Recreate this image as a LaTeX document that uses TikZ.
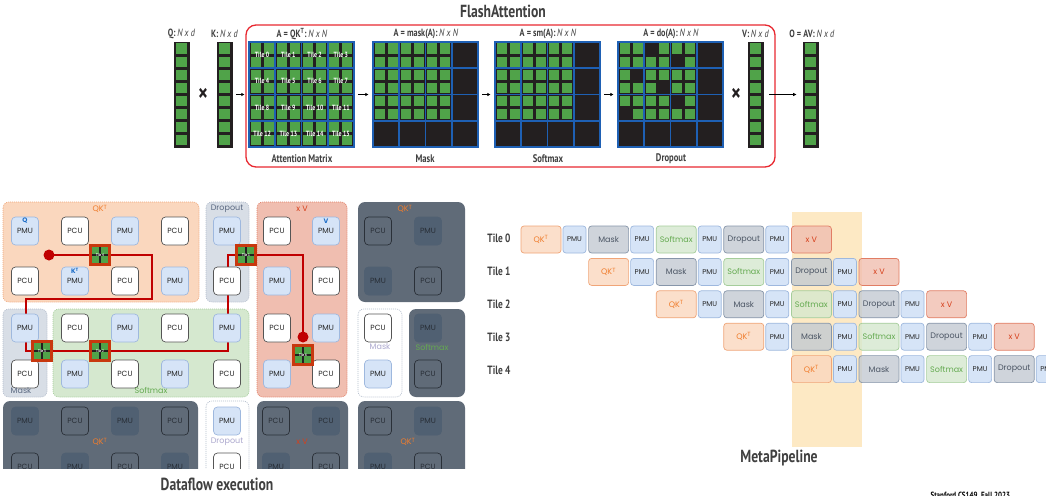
\documentclass[tikz,border=0pt]{standalone}
\usepackage{fontspec}
\setmainfont{PT Sans}
\newfontfamily\condfont[FakeStretch=0.78]{PT Sans}
\newfontfamily\geofont{Poppins}
\usetikzlibrary{arrows.meta}

\definecolor{cellgreen}{RGB}{80,163,73}
\definecolor{cellblack}{RGB}{35,31,32}
\definecolor{tileblue}{RGB}{30,96,180}
\definecolor{framered}{RGB}{232,40,48}
\definecolor{textdark}{RGB}{64,64,64}
\definecolor{peachfill}{RGB}{250,215,190}
\definecolor{peachline}{RGB}{240,165,120}
\definecolor{qkorange}{RGB}{240,125,45}
\definecolor{mistfill}{RGB}{216,222,230}
\definecolor{mistline}{RGB}{180,190,205}
\definecolor{salmonfill}{RGB}{240,190,176}
\definecolor{salmonline}{RGB}{225,125,100}
\definecolor{xvred}{RGB}{214,64,28}
\definecolor{mintfill}{RGB}{213,232,207}
\definecolor{mintline}{RGB}{165,205,155}
\definecolor{smgreen}{RGB}{100,170,80}
\definecolor{slate}{RGB}{96,107,120}
\definecolor{slatebox}{RGB}{80,96,114}
\definecolor{slateline}{RGB}{42,48,56}
\definecolor{slatetext}{RGB}{40,46,54}
\definecolor{pmufill}{RGB}{214,228,247}
\definecolor{pmuline}{RGB}{158,184,222}
\definecolor{pculine}{RGB}{85,85,85}
\definecolor{zonetext}{RGB}{90,104,128}
\definecolor{lilac}{RGB}{172,168,206}
\definecolor{stonefill}{RGB}{195,202,210}
\definecolor{stoneline}{RGB}{135,150,170}
\definecolor{stonetext}{RGB}{75,85,100}
\definecolor{hilite}{RGB}{253,233,196}
\definecolor{pathred}{RGB}{192,0,0}
\definecolor{tilered}{RGB}{200,56,14}
\definecolor{qblue}{RGB}{30,110,200}

\tikzset{
  vecbox/.style={fill=cellblack, draw=cellblack, line width=0.8pt, minimum width=15pt, minimum height=105pt, inner sep=0pt},
  matbox/.style={fill=cellblack, minimum size=105pt, inner sep=0pt},
  tileline/.style={tileblue, line width=1.8pt, line cap=rect},
  vlabel/.style={font=\condfont\fontsize{10.5}{11}\selectfont, text=textdark},
  mcaption/.style={font=\condfont\bfseries\fontsize{11}{11}\selectfont, text=textdark},
  tiletext/.style={font=\condfont\bfseries\fontsize{7.5}{8}\selectfont, text=white, inner sep=0pt},
  flowarrow/.style={-{Latex[length=3.5pt,width=3.5pt]}, line width=1pt, shorten <=4pt, shorten >=4pt},
  mult/.style={font=\condfont\bfseries\fontsize{24}{24}\selectfont, text=cellblack, inner sep=0pt},
  bigtitle/.style={font=\condfont\bfseries\fontsize{17.5}{18}\selectfont, text=textdark},
  zone/.style={rounded corners=6pt, line width=0.6pt, dash pattern=on 1pt off 1pt},
  darkzone/.style={rounded corners=7pt, fill=slate},
  zonelabel/.style={font=\geofont\fontsize{8}{8}\selectfont, inner sep=0pt},
  hwunit/.style={rounded corners=4pt, minimum width=27pt, minimum height=28pt, inner sep=0pt, line width=0.7pt, font=\geofont\fontsize{7.5}{8}\selectfont},
  pmu/.style={hwunit, fill=pmufill, draw=pmuline, text=black!85},
  pcu/.style={hwunit, fill=white, draw=pculine, text=black!85},
  dpmu/.style={hwunit, fill=slatebox, draw=slatebox, text=slatetext},
  dpcu/.style={hwunit, draw=slateline, text=slatetext},
  redpath/.style={pathred, line width=1.1pt},
  reddot/.style={circle, fill=pathred, minimum size=11pt, inner sep=0pt},
  tilemark/.style={draw=tilered, line width=2.4pt, fill=cellgreen, minimum size=19pt, inner sep=0pt,
    font=\condfont\bfseries\fontsize{4}{4}\selectfont, text=white,
    path picture={\draw[cellblack, line width=1.3pt]
      (path picture bounding box.north) -- (path picture bounding box.south)
      (path picture bounding box.west) -- (path picture bounding box.east);}},
  rowlabel/.style={font=\condfont\bfseries\fontsize{12}{12}\selectfont, text=textdark},
  stage/.style={rounded corners=3pt, minimum width=40pt, minimum height=27pt, inner sep=0pt, line width=0.7pt,
    fill opacity=0.8, text opacity=1, font=\geofont\fontsize{8}{8}\selectfont},
  qkbox/.style={stage, fill=peachfill, draw=peachline, text=qkorange},
  graybox/.style={stage, fill=stonefill, draw=stoneline, text=stonetext},
  smbox/.style={stage, fill=mintfill, draw=mintline, text=smgreen},
  xvbox/.style={stage, fill=salmonfill, draw=salmonline, text=xvred},
  pipepmu/.style={hwunit, minimum width=23pt, minimum height=27pt, rounded corners=3pt, fill=pmufill, draw=pmuline,
    text=black!85, font=\geofont\fontsize{7}{7}\selectfont},
}

% column vector: name, left x
\newcommand{\vecbar}[2]{%
  \node[vecbox] (#1) at (#2+7.5,94.5) {};
  \foreach \i in {0,...,7}
    \fill[cellgreen] (#2+1.8,42+\i*13.125+1.5) rectangle ++(11.4,10.1);
}

% N x N matrix: name, left x, masked (0/1)
\newcommand{\attmatrix}[3]{%
  \node[matbox] (#1) at (#2+52.5,94.5) {};
  \foreach \i in {0,...,7}
    \foreach \j in {0,...,7} {
      \pgfmathtruncatemacro\celloff{#3*((\i>5)||(\j>5))}
      \ifnum\celloff=0
        \fill[cellgreen] (#2+\j*13.125+1.5,42+\i*13.125+1.5) rectangle ++(10.1,10.1);
      \fi
    }
  \foreach \k in {0,...,4} {
    \draw[tileline] (#2+\k*26.25,42) -- ++(0,105);
    \draw[tileline] (#2,42+\k*26.25) -- ++(105,0);
  }
}

\begin{document}
\begin{tikzpicture}[x=1pt,y=-1pt]
  \useasboundingbox (0,0) rectangle (1046,495);
  \fill[white] (0,0) rectangle (1046,495);
  \clip (0,0) rectangle (1046,495);

  % FlashAttention
  \node[bigtitle] (flash) at (503,11) {FlashAttention};
  \draw[framered, line width=1.3pt, rounded corners=10pt] (246,25) rectangle (775,167);
  \vecbar{qv}{174}
  \vecbar{kv}{217}
  \attmatrix{am}{249}{0}
  \attmatrix{mk}{373}{1}
  \attmatrix{sm}{495}{1}
  \attmatrix{dr}{618}{1}
  \foreach \i/\j in {0/2,1/4,2/1,3/3,4/4,5/0}
    \fill[cellblack] (618+\j*13.125+1.5,42+\i*13.125+1.5) rectangle ++(10.1,10.1);
  \vecbar{vv}{748}
  \vecbar{ov}{803}
  \foreach \n in {0,...,15} {
    \pgfmathtruncatemacro\trow{int(\n/4)}
    \pgfmathtruncatemacro\tcol{mod(\n,4)}
    \node[tiletext] (tt\n) at (249+\tcol*26.25+13.1,42+\trow*26.25+13.1) {Tile \n};
  }
  \node[mult] (x1) at (203,95) {×};
  \node[mult] (x2) at (736,95) {×};
  \draw[flowarrow] (kv) -- (am);
  \draw[flowarrow] (am) -- (mk);
  \draw[flowarrow] (mk) -- (sm);
  \draw[flowarrow] (sm) -- (dr);
  \draw[flowarrow, shorten <=6pt, shorten >=6pt] (vv) -- (ov);

  \node[vlabel] (lq) at (181.5,34) {\textbf{Q:}\,\textit{N x d}};
  \node[vlabel] (lk) at (224.5,34) {\textbf{K:}\,\textit{N x d}};
  \node[vlabel] (la) at (302,34) {\textbf{A = QK\textsuperscript{T}:}\,\textit{N x N}};
  \node[vlabel] (lm) at (426,34) {\textbf{A = mask(A):}\,\textit{N x N}};
  \node[vlabel] (ls) at (548,34) {\textbf{A = sm(A):}\,\textit{N x N}};
  \node[vlabel] (ld) at (671,34) {\textbf{A = do(A):}\,\textit{N x N}};
  \node[vlabel] (lv) at (755.5,34) {\textbf{V:}\,\textit{N x d}};
  \node[vlabel] (lo) at (812,34) {\textbf{O = AV:}\,\textit{N x d}};
  \node[mcaption] (ca) at (302,159) {Attention Matrix};
  \node[mcaption] (cm) at (425,159) {Mask};
  \node[mcaption] (cs) at (548,159) {Softmax};
  \node[mcaption] (cd) at (671,159) {Dropout};

  % Dataflow execution
  \begin{scope}
    \clip (0,190) rectangle (470,468);
    \draw[zone, fill=peachfill, draw=peachline] (3,202) rectangle (199,302);
    \draw[zone, fill=mistfill, draw=mistline] (206,202) rectangle (249,302);
    \draw[zone, fill=salmonfill, draw=salmonline] (257,202) rectangle (347,397);
    \fill[darkzone] (358,202) rectangle (465,302);
    \draw[zone, fill=mistfill, draw=mistline] (3,309) rectangle (47,397);
    \draw[zone, fill=mintfill, draw=mintline] (53,309) rectangle (249,397);
    \draw[zone, fill=white, draw=mistline] (358,309) rectangle (402,397);
    \fill[darkzone] (409,309) rectangle (465,397);
    \fill[darkzone] (3,401) rectangle (198,495);
    \draw[zone, fill=white, draw=mistline] (206,401) rectangle (249,495);
    \fill[darkzone] (257,401) rectangle (348,495);
    \fill[darkzone] (358,401) rectangle (465,495);

    \coordinate (src) at (49,255);
    \coordinate (dst) at (303,337);
    \draw[redpath] (src) -- ++(103,0) |- (26,299) |- (228,351) |- (dst |- src) -- (dst);

    \foreach \y/\units in {
      231/{25/pmu/PMU,75/pcu/PCU,125/pmu/PMU,175/pcu/PCU,227/pmu/PMU,277/pcu/PCU,326/pmu/PMU,378/dpcu/PCU,428/dpmu/PMU},
      281/{25/pcu/PCU,75/pmu/PMU,125/pcu/PCU,175/pmu/PMU,227/pcu/PCU,277/pmu/PMU,326/pcu/PCU,378/dpmu/PMU,428/dpcu/PCU},
      328/{25/pmu/PMU,75/pcu/PCU,125/pmu/PMU,175/pcu/PCU,227/pmu/PMU,277/pcu/PCU,326/pmu/PMU,378/pcu/PCU,428/dpmu/PMU},
      374/{25/pcu/PCU,75/pmu/PMU,125/pcu/PCU,175/pmu/PMU,227/pcu/PCU,277/pmu/PMU,326/pcu/PCU,378/pmu/PMU,428/dpcu/PCU},
      421/{25/dpmu/PMU,75/dpcu/PCU,125/dpmu/PMU,175/dpcu/PCU,227/pmu/PMU,276/dpcu/PCU,326/dpmu/PCU,378/dpcu/PCU,428/dpmu/PMU},
      467/{25/dpcu/PCU,75/dpmu/PMU,125/dpcu/PCU,175/dpmu/PMU,227/pcu/PCU,276/dpmu/PMU,326/dpcu/PCU,378/dpmu/PMU,428/dpcu/PCU}}
      \foreach \x/\kind/\txt in \units
        \node[\kind] (u-\x-\y) at (\x,\y) {\txt};

    \node[zonelabel, text=qblue, font=\geofont\bfseries\fontsize{6.5}{7}\selectfont] (lblq) at (25,221) {Q};
    \node[zonelabel, text=qblue, font=\geofont\bfseries\fontsize{6.5}{7}\selectfont] (lblk) at (75,271) {K\textsuperscript{T}};
    \node[zonelabel, text=qblue, font=\geofont\bfseries\fontsize{6.5}{7}\selectfont] (lblv) at (326,221) {V};

    \node[reddot] (srcdot) at (src) {};
    \node[reddot] (dstdot) at (dst) {};
    \node[tilemark] (m4) at (100,255) {Tile 4};
    \node[tilemark] (m1) at (246,255) {Tile 1};
    \node[tilemark] (m3) at (42,351) {Tile 3};
    \node[tilemark] (m2) at (100,351) {Tile 2};
    \node[tilemark] (m6) at (303,355) {Tile 6};

    \node[zonelabel, text=qkorange] (zqk1) at (100,209) {QK\textsuperscript{T}};
    \node[zonelabel, text=zonetext] (zdo1) at (227,209) {Dropout};
    \node[zonelabel, text=xvred] (zxv1) at (302,209) {x V};
    \node[zonelabel, text=qkorange] (zqk2) at (405,209) {QK\textsuperscript{T}};
    \node[zonelabel, text=zonetext] (zmk1) at (21,391) {Mask};
    \node[zonelabel, text=smgreen] (zsm1) at (151,390) {Softmax};
    \node[zonelabel, text=lilac] (zmk2) at (380,347) {Mask};
    \node[zonelabel, text=smgreen] (zsm2) at (432,347) {Softmax};
    \node[zonelabel, text=qkorange] (zqk3) at (100,442) {QK\textsuperscript{T}};
    \node[zonelabel, text=lilac] (zdo2) at (227,442) {Dropout};
    \node[zonelabel, text=xvred] (zxv2) at (302,442) {x V};
    \node[zonelabel, text=qkorange] (zqk4) at (408,442) {QK\textsuperscript{T}};
  \end{scope}
  \node[bigtitle] (dftitle) at (217,484) {Dataflow execution};

  % MetaPipeline
  \fill[hilite] (792,212) rectangle (862,447);
  \foreach \r in {0,...,4} {
    \node[rowlabel] (row\r) at (499,238+33*\r) {Tile \r};
    \foreach \k/\st/\lab in {0/qkbox/{QK\textsuperscript{T}},1/graybox/Mask,2/smbox/Softmax,3/graybox/Dropout,4/xvbox/x V} {
      \pgfmathsetmacro\stx{521+67.6*(\r+\k)}
      \node[\st] (s\r\k) at (\stx+20,239.5+32.4*\r) {\lab};
      \ifnum\k<4
        \node[pipepmu] (p\r\k) at (\stx+53.5,239.5+32.4*\r) {PMU};
      \fi
    }
  }
  \node[bigtitle] (mptitle) at (779,458) {MetaPipeline};
  \node[font=\condfont\bfseries\fontsize{9}{9}\selectfont, text=black, anchor=west] (footer) at (927,495.5) {Stanford CS149, Fall 2023};
\end{tikzpicture}
\end{document}
